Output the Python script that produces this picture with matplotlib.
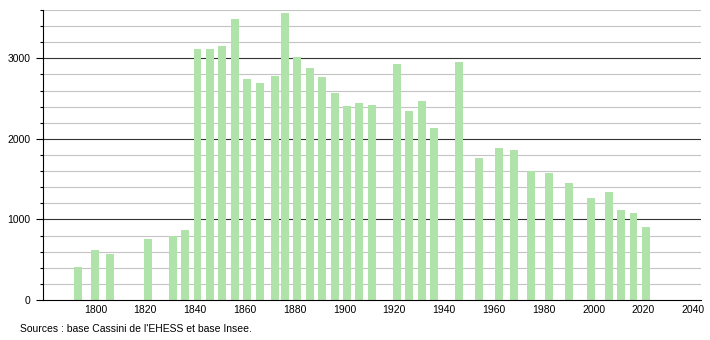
import matplotlib
matplotlib.use("Agg")
import matplotlib.pyplot as plt
from matplotlib.ticker import MultipleLocator

# census years and population
years = [1793, 1800, 1806, 1821, 1831, 1836, 1841, 1846, 1851, 1856,
         1861, 1866, 1872, 1876, 1881, 1886, 1891, 1896, 1901, 1906,
         1911, 1921, 1926, 1931, 1936, 1946, 1954, 1962, 1968, 1975,
         1982, 1990, 1999, 2006, 2011, 2016, 2021]
population = [415, 615, 574, 752, 798, 873, 3117, 3117, 3159, 3491,
              2743, 2693, 2785, 3566, 3017, 2880, 2768, 2569, 2403, 2444,
              2419, 2930, 2344, 2469, 2136, 2951, 1766, 1883, 1858, 1596,
              1575, 1455, 1272, 1338, 1122, 1076, 910]
xticks = [1800, 1820, 1840, 1860, 1880, 1900, 1920, 1940, 1960, 1980, 2000, 2020, 2040]
yticks = [0, 1000, 2000, 3000]
source = "Sources : base Cassini de l'EHESS et base Insee."

plt.rcParams['font.family'] = ['Liberation Sans', 'DejaVu Sans']

fig = plt.figure(figsize=(7.1, 3.4), dpi=100)
ax = fig.add_axes([0.0606, 0.1176, 0.9264, 0.853])

# grid: light lines every 200, dark every 1000
for v in range(200, 3601, 200):
    if v % 1000 == 0:
        ax.axhline(v, color='#333333', lw=0.8, zorder=1)
    else:
        ax.axhline(v, color='#c4c4c4', lw=0.8, zorder=1)

ax.bar(years, population, width=3.2, color='#b0e3aa', zorder=2)

ax.set_xlim(1779, 2043)
ax.set_ylim(0, 3600)
ax.set_xticks(xticks)
ax.set_yticks(yticks)
ax.yaxis.set_minor_locator(MultipleLocator(200))
ax.tick_params(axis='x', length=0, labelsize=7.5, pad=3.5)
ax.tick_params(axis='y', which='major', length=5, width=0.8, labelsize=7.5, pad=4)
ax.tick_params(axis='y', which='minor', length=2.5, width=0.8)

for s in ['top', 'right']:
    ax.spines[s].set_visible(False)
ax.spines['left'].set_color('black')
ax.spines['bottom'].set_color('black')
ax.spines['left'].set_linewidth(0.8)
ax.spines['bottom'].set_linewidth(0.8)

fig.text(20 / 710, 1 - 329 / 340, source, fontsize=7.5, va='center', ha='left')

fig.savefig("out.png", dpi=100)
